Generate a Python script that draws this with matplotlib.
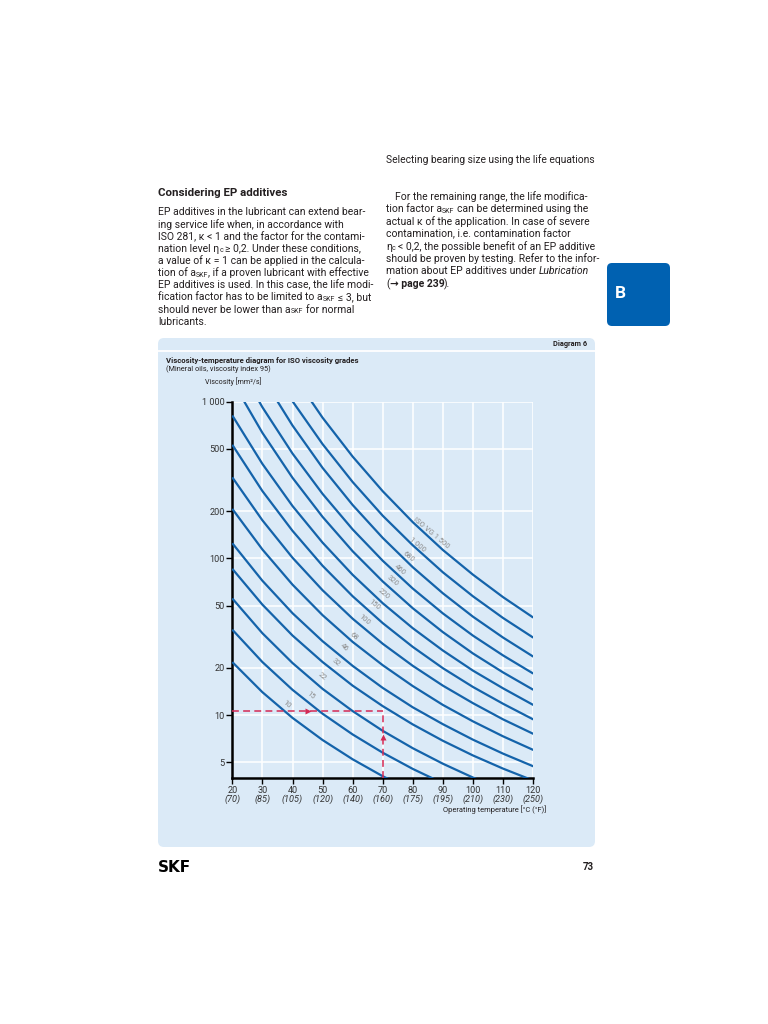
"""Viscosity-temperature diagram for ISO viscosity grades (SKF catalogue page 73)."""

import re

import matplotlib.pyplot as plt
from matplotlib.patches import FancyBboxPatch
from matplotlib.transforms import IdentityTransform

# --- data ----------------------------------------------------------------
temps = [20, 30, 40, 50, 60, 70, 80, 90, 100, 110, 120]
temps_f = ["(70)", "(85)", "(105)", "(120)", "(140)", "(160)",
           "(175)", "(195)", "(210)", "(230)", "(250)"]

vg10 = [21.8, 14.0, 9.6, 6.93, 5.22, 4.07, 3.27, 2.69, 2.26, 1.93, 1.67]
vg15 = [35.1, 21.8, 14.5, 10.2, 7.52, 5.75, 4.53, 3.67, 3.03, 2.56, 2.19]
vg22 = [55.5, 33.3, 21.5, 14.7, 10.6, 7.93, 6.14, 4.89, 3.99, 3.32, 2.81]
vg32 = [85.8, 50.7, 32.2, 21.8, 15.4, 11.4, 8.71, 6.85, 5.52, 4.55, 3.82]
vg46 = [125, 72.0, 44.7, 29.6, 20.6, 14.9, 11.2, 8.74, 6.96, 5.67, 4.71]
vg68 = [207, 114, 68.0, 43.4, 29.3, 20.8, 15.3, 11.6, 9.11, 7.31, 5.99]
vg100 = [329, 175, 101, 62.6, 41.2, 28.5, 20.6, 15.4, 11.9, 9.38, 7.59]
vg150 = [531, 269, 150, 89.7, 57.3, 38.6, 27.2, 19.9, 15.1, 11.8, 9.38]
vg220 = [817, 401, 216, 126, 78.5, 51.7, 35.8, 25.8, 19.2, 14.8, 11.6]
vg320 = [1355, 633, 327, 184, 111, 71.2, 48.0, 33.8, 24.7, 18.7, 14.5]
vg460 = [2014, 922, 467, 258, 153, 96.5, 64.1, 44.5, 32.1, 24.0, 18.4]
vg680 = [3240, 1434, 705, 378, 219, 135, 87.7, 59.8, 42.4, 31.2, 23.6]
vg1000 = [4679, 2062, 1007, 536, 307, 187, 121, 81.4, 57.2, 41.6, 31.2]
vg1500 = [7217, 3136, 1508, 790, 446, 268, 170, 113, 78.6, 56.5, 41.9]

grades = [vg10, vg15, vg22, vg32, vg46, vg68, vg100, vg150,
          vg220, vg320, vg460, vg680, vg1000, vg1500]
grade_labels = ["10", "15", "22", "32", "46", "68", "100", "150",
                "220", "320", "460", "680", "1 000", "ISO VG 1 500"]

visc_ticks = [5, 10, 20, 50, 100, 200, 500, 1000]
visc_tick_labels = ["5", "10", "20", "50", "100", "200", "500", "1 000"]

# worked example (red dashed lines)
ex_temp = 70
ex_visc = 10.6

# --- page layout (pixel positions on the 768 x 1024 page) -----------------
W, H = 768, 1024
BLUE = "#1463aa"
BOX = "#dbeaf7"
INK = "#231f20"
RED = "#d42a55"
BODY = 7.45
SPACE = 2.6  # px, width of a blank at body size

plt.rcParams["font.family"] = ["Roboto", "DejaVu Sans"]

fig = plt.figure(figsize=(W / 100, H / 100), dpi=100)
renderer = fig.canvas.get_renderer()


def P(x, y):
    return x / W, 1 - y / H


def put_run(x, y, pieces):
    """Draw text pieces one after another on a line; pieces are (text, style)."""
    for s, style in pieces:
        if s.startswith(" "):
            x += SPACE
            s = s.lstrip()
        if not s:
            continue
        kw = {"fontsize": BODY}
        dy = 0
        if style == "sub":
            kw["fontsize"] = BODY * 0.68
            dy = 2.3
        elif style == "italic":
            kw["style"] = "italic"
        elif style == "bold":
            kw["weight"] = "bold"
        t = fig.text(*P(x, y + dy), s, va="center", color=INK, **kw)
        x += t.get_window_extent(renderer).width


def parse(line):
    """Split 'a_{SKF}', '*italic*' and '#bold#' markup into (text, style) pieces."""
    out = []
    for part in re.split(r"(_\{[^}]*\}|\*[^*]*\*|#[^#]*#)", line):
        if not part:
            continue
        if part.startswith("_{"):
            out.append((part[2:-1], "sub"))
        elif part.startswith("*"):
            out.append((part[1:-1], "italic"))
        elif part.startswith("#"):
            out.append((part[1:-1], "bold"))
        else:
            out.append((part, "normal"))
    return out


# header and body text
fig.text(*P(595, 160), "Selecting bearing size using the life equations",
         ha="right", va="center", fontsize=7.35, color=INK)
fig.text(*P(158, 193), "Considering EP additives", fontsize=8.25,
         weight="bold", va="center", color=INK)

left_lines = [
    "EP additives in the lubricant can extend bear-",
    "ing service life when, in accordance with",
    "ISO 281, κ < 1 and the factor for the contami-",
    "nation level η_{c} ≥ 0,2. Under these conditions,",
    "a value of κ = 1 can be applied in the calcula-",
    "tion of a_{SKF}, if a proven lubricant with effective",
    "EP additives is used. In this case, the life modi-",
    "fication factor has to be limited to a_{SKF} ≤ 3, but",
    "should never be lower than a_{SKF} for normal",
    "lubricants.",
]
for i, line in enumerate(left_lines):
    put_run(158, 212 + 12.2 * i, parse(line))

right_lines = [
    "For the remaining range, the life modifica-",
    "tion factor a_{SKF} can be determined using the",
    "actual κ of the application. In case of severe",
    "contamination, i.e. contamination factor",
    "η_{c} < 0,2, the possible benefit of an EP additive",
    "should be proven by testing. Refer to the infor-",
    "mation about EP additives under *Lubrication*",
    "(#→ page 239#).",
]
for i, line in enumerate(right_lines):
    put_run(395 if i == 0 else 386, 197 + 12.4 * i, parse(line))

# section tab "B"
tab = FancyBboxPatch((607, H - 326), 63, 63,
                     boxstyle="round,pad=0,rounding_size=5",
                     transform=IdentityTransform(), fc="#0061b1", ec="none")
fig.add_artist(tab)
fig.text(*P(620, 294), "B", color="white", fontsize=12.5, weight="bold",
         ha="center", va="center")

# diagram box
box = FancyBboxPatch((158, H - 847), 437, 509,
                     boxstyle="round,pad=0,rounding_size=6",
                     transform=IdentityTransform(), fc=BOX, ec="none",
                     zorder=-5)
fig.add_artist(box)
fig.add_artist(plt.Line2D([158 / W, 595 / W], [1 - 351 / H, 1 - 351 / H],
                          transform=fig.transFigure, color="white", lw=1.3,
                          zorder=-4))
fig.text(*P(587, 344), "Diagram 6", ha="right", va="center",
         fontsize=5.3, weight="bold", color=INK)
fig.text(*P(166, 360), "Viscosity-temperature diagram for ISO viscosity grades",
         va="center", fontsize=5.55, weight="bold", color=INK)
fig.text(*P(166, 369), "(Mineral oils, viscosity index 95)",
         va="center", fontsize=5.35, color=INK)
fig.text(*P(205, 381.5), "Viscosity [mm²/s]",
         va="center", fontsize=5.15, color=INK)

# --- the chart -------------------------------------------------------------
ax_l, ax_r, ax_t, ax_b = 232.3, 533.3, 401.7, 778.3
ax = fig.add_axes([ax_l / W, 1 - ax_b / H, (ax_r - ax_l) / W, (ax_b - ax_t) / H])
ax.patch.set_alpha(0)
ax.set_yscale("log")
ymin = 3.95
ax.set_xlim(20, 120)
ax.set_ylim(ymin, 1000)

for vals in grades:
    ax.plot(temps, vals, color=BLUE, lw=1.6, solid_capstyle="butt", zorder=3)

ax.plot([temps[0], ex_temp], [ex_visc, ex_visc], color=RED, lw=1.1,
        ls=(0, (4.5, 2.8)), zorder=4)
ax.plot([ex_temp, ex_temp], [ymin, ex_visc], color=RED, lw=1.1,
        ls=(0, (4.5, 2.8)), zorder=4)
ax.plot((temps[0] + ex_temp) / 2, ex_visc, marker=">", ms=4.5, color=RED,
        mec="none", zorder=5)
ax.plot(ex_temp, (ymin * ex_visc) ** 0.5 * 1.12, marker="^", ms=4.5,
        color=RED, mec="none", zorder=5)

ax.set_yticks(visc_ticks)
ax.set_yticklabels(visc_tick_labels)
ax.minorticks_off()
ax.set_xticks(temps)
ax.set_xticklabels([str(t) for t in temps])
ax.tick_params(direction="out", length=4, width=1, color="black",
               labelsize=6.6, labelcolor="#333333", pad=1.5)
ax.grid(True, color="white", lw=1.1)
ax.set_axisbelow(True)
for side in ("top", "right"):
    ax.spines[side].set_visible(False)
for side in ("left", "bottom"):
    ax.spines[side].set_linewidth(1.8)
    ax.spines[side].set_color("black")

for t, f in zip(temps, temps_f):
    ax.text(t, -0.055, f, transform=ax.get_xaxis_transform(), ha="center",
            va="center", fontsize=6.6, style="italic", color="#333333")
fig.text(*P(546, 809.5), "Operating temperature [°C (°F)]", ha="right",
         va="center", fontsize=5.4, color=INK)

# grade labels along the curves
label_px = [(286.7, 704), (311, 695.5), (322.7, 676), (336, 662),
            (344.3, 647.7), (354, 636), (364.3, 620), (375, 605),
            (384, 593.3), (393.3, 580.7), (400, 570), (408.7, 556.7),
            (417.3, 545), (431.7, 532.7)]
for s, (x, y) in zip(grade_labels, label_px):
    fig.text(*P(x, y), s, rotation=-40, rotation_mode="anchor",
             ha="center", va="center", fontsize=5.5, color="#8c8c8c")

# footer
fig.text(*P(158, 867), "SKF", fontsize=11, weight="black", va="center",
         family="DejaVu Sans", color="black")
fig.text(*P(594, 867), "73", fontsize=7, weight="bold", ha="right",
         va="center", color=INK)

fig.savefig("out.png", dpi=100)
